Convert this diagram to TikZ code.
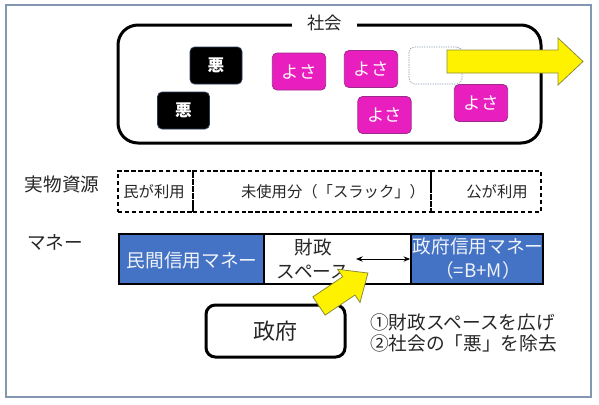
\documentclass[tikz,border=0pt]{standalone}
\usepackage{fontspec}
\setmainfont{Noto Sans CJK JP}
\usetikzlibrary{arrows.meta}
\definecolor{frameblue}{HTML}{8497B0}
\definecolor{mag}{HTML}{E91EBE}
\definecolor{magedge}{HTML}{9E2A8C}
\definecolor{moneyblue}{HTML}{4472C4}
\definecolor{arrowedge}{HTML}{8C8C3A}
\definecolor{badedge}{HTML}{2E3B55}
\definecolor{dashgray}{HTML}{8C9AAE}
\begin{document}
\begin{tikzpicture}[x=0.75pt,y=-0.75pt,
  badbox/.style={draw=badedge, line width=0.6pt, fill=black, rounded corners=3.5pt,
    minimum width=39pt, minimum height=27.75pt, inner sep=0pt, text=white,
    font=\fontsize{12.5}{14}\selectfont\bfseries},
  goodbox/.style={draw=magedge, line width=0.6pt, fill=mag, rounded corners=3.5pt,
    minimum width=40pt, minimum height=27.75pt, inner sep=0pt, text=white,
    font=\fontsize{13}{15}\selectfont},
  resbox/.style={draw, line width=1.4pt, dash pattern=on 3.2pt off 2pt,
    minimum height=30.75pt, inner sep=0pt},
  restext/.style={inner sep=0pt, font=\fontsize{11.5}{13}\selectfont, text=black!85},
  rowlabel/.style={inner sep=0pt, font=\fontsize{14}{16}\selectfont, text=black!85},
  moneybox/.style={draw=black, line width=1.2pt, minimum height=37.5pt, inner sep=0pt},
  moneytext/.style={inner sep=0pt, align=center, font=\fontsize{14}{16.5}\selectfont},
  yarrow/.style={draw=arrowedge, line width=0.6pt, fill=yellow, line join=miter}
]
\useasboundingbox (0,0) rectangle (599,404);
% outer frame
\draw[frameblue, line width=1.1pt] (6,5) rectangle (591,397);

% society
\node[draw, line width=2.25pt, rounded corners=15pt, minimum width=317.25pt,
  minimum height=88.5pt, inner sep=0pt] (society) at (329.5,84) {};
\node[fill=white, inner xsep=11.4pt, inner ysep=2pt, font=\fontsize{13}{15}\selectfont,
  text=black!85] (shakai) at (324.5,23) {社会};

\node[badbox] (bad1) at (216,65.5) {悪};
\node[badbox] (bad2) at (183.5,110.5) {悪};
\node[goodbox] (good1) at (299,71.5) {よさ};
\node[goodbox] (good2) at (371,69) {よさ};
\node[goodbox] (good3) at (384.5,115) {よさ};
\node[goodbox] (good4) at (481,103) {よさ};
\node[draw=dashgray, line width=0.5pt, dash pattern=on 1pt off 0.8pt, rounded corners=4pt,
  minimum width=39.75pt, minimum height=27.75pt, inner sep=0pt] (empty) at (435.5,65.5) {};

% big yellow arrow
\draw[yarrow] (447,50) -- (558,50) -- (558,38) -- (583,61.5) -- (558,85) -- (558,73) -- (447,73) -- cycle;

% real resources
\node[rowlabel] (reslabel) at (62,184.5) {実物資源};
\node[resbox, minimum width=56.25pt] (res1) at (155.5,191.5) {};
\node[resbox, minimum width=178.5pt] (res2) at (312,191.5) {};
\node[resbox, minimum width=82.5pt] (res3) at (486,191.5) {};
\node[restext] (res1t) at (154,192) {民が利用};
\node[restext] (res2t) at (333,192) {未使用分（「スラック」）};
\node[restext] (res3t) at (497,192) {公が利用};

% money
\node[rowlabel] (monlabel) at (55,242) {マネー};
\node[moneybox, fill=moneyblue, minimum width=108.75pt] (priv) at (191.5,259) {};
\node[moneybox, fill=white, minimum width=110.25pt] (fisc) at (337.5,259) {};
\node[moneybox, fill=moneyblue, minimum width=99pt] (govm) at (477,259) {};
\node[moneytext, text=white!92!moneyblue] (privt) at (192,260) {民間信用マネー};
\node[moneytext, text=black!85] (fisct) at (313,259) {財政\\[1pt]スペース};
\node[moneytext, text=white!92!moneyblue] (govmt) at (478,258.5) {政府信用マネー\\[1pt]（=B+M）};
\coordinate (dl) at (356,259);
\draw[{Stealth[length=5pt,width=4pt]}-{Stealth[length=5pt,width=4pt]}, line width=0.7pt] (dl) -- (govm.west);

% government
\node[draw, line width=2.25pt, rounded corners=7pt, minimum width=104.25pt,
  minimum height=39pt, inner sep=0pt, font=\fontsize{16.5}{18}\selectfont, text=black!85]
  (gov) at (275.5,331) {政府};
\node[anchor=west, inner sep=0pt, align=left, font=\fontsize{14}{15.75}\selectfont, text=black!85]
  (notes) at (370,332.5) {①財政スペースを広げ\\②社会の「悪」を除去};

% small yellow arrow
\begin{scope}[shift={(319,306)}, rotate=34]
\draw[yarrow] (0,-11) -- (36,-11) -- (36,-20) -- (59,0) -- (36,20) -- (36,11) -- (0,11) -- cycle;
\end{scope}
\end{tikzpicture}
\end{document}
